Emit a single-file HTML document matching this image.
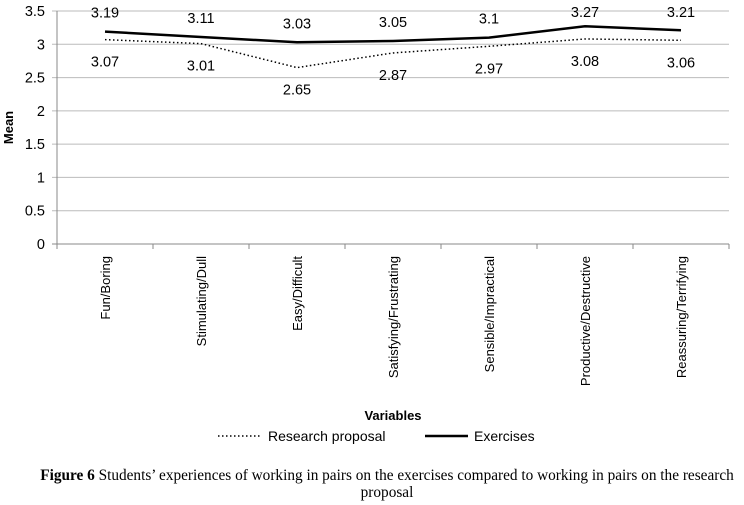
<!DOCTYPE html>
<html><head><meta charset="utf-8"><style>
body{margin:0;background:#fff;width:744px;height:505px;overflow:hidden;font-family:"Liberation Sans",sans-serif}
.cap{position:absolute;left:30px;top:467px;width:714px;text-align:center;font-family:"Liberation Serif",serif;font-size:15.3px;line-height:17px;color:#000}
</style></head><body>
<svg id="chart" width="744" height="460" style="position:absolute;left:0;top:0"></svg>
<div class="cap"><b>Figure 6</b> Students’ experiences of working in pairs on the exercises compared to working in pairs on the research proposal</div>
<script>
const categories=["Fun/Boring","Stimulating/Dull","Easy/Difficult","Satisfying/Frustrating","Sensible/Impractical","Productive/Destructive","Reassuring/Terrifying"];
const research=[3.07,3.01,2.65,2.87,2.97,3.08,3.06];
const exercises=[3.19,3.11,3.03,3.05,3.1,3.27,3.21];
const yTicks=[0,0.5,1,1.5,2,2.5,3,3.5];
const yTickLabels=["0","0.5","1","1.5","2","2.5","3","3.5"];
const NS="http://www.w3.org/2000/svg";
const svg=document.getElementById('chart');
const x0=57,x1=729,yTop=11,yBot=244;
const band=(x1-x0)/categories.length;
const X=i=>x0+band*(i+0.5);
const Y=v=>yBot-(v/3.5)*(yBot-yTop);
function mk(t,a,txt){const e=document.createElementNS(NS,t);for(const k in a)e.setAttribute(k,a[k]);if(txt!==undefined)e.textContent=txt;svg.appendChild(e);return e;}
yTicks.forEach((v,i)=>{
 const g=mk('line',{x1:x0-5,x2:x1,y1:Y(v),y2:Y(v),stroke:v===0?'#888':'#bbb','stroke-width':1});
 
 
 const t=mk('text',{x:x0-12,y:Y(v)+5,'text-anchor':'end','font-size':14.5,fill:'#000'},yTickLabels[i]);
 
 
});
const ax=mk('line',{x1:x0,x2:x0,y1:yTop,y2:yBot,stroke:'#888'});


for(let i=0;i<=categories.length;i++){
 const tk=mk('line',{x1:x0+band*i,x2:x0+band*i,y1:yBot,y2:yBot+5,stroke:'#888'});
 
 
}
categories.forEach((c,i)=>{
 const t=mk('text',{x:0,y:0,'text-anchor':'end','font-size':13,fill:'#000',transform:`translate(${X(i)+5},${yBot+12}) rotate(-90)`},c);
 
 
});
const yt=mk('text',{x:0,y:0,'text-anchor':'middle','font-size':13,'font-weight':'bold',transform:`translate(13,${Y(1.75)}) rotate(-90)`},'Mean');


const xt=mk('text',{x:393,y:420,'text-anchor':'middle','font-size':13,'font-weight':'bold'},'Variables');


const pr=mk('polyline',{points:research.map((v,i)=>X(i)+','+Y(v)).join(' '),fill:'none',stroke:'#000','stroke-width':1.5,'stroke-dasharray':'1.5,2.5'});


const pe=mk('polyline',{points:exercises.map((v,i)=>X(i)+','+Y(v)).join(' '),fill:'none',stroke:'#000','stroke-width':2.5});


exercises.forEach((v,i)=>{
 const t=mk('text',{x:X(i),y:Math.max(Y(v)-14,17),'text-anchor':'middle','font-size':14.5},String(v));
 
 
});
research.forEach((v,i)=>{
 const t=mk('text',{x:X(i),y:Y(v)+27,'text-anchor':'middle','font-size':14.5},String(v));
 
 
});
const l1=mk('line',{x1:218,x2:262,y1:436,y2:436,stroke:'#000','stroke-width':1.5,'stroke-dasharray':'1.5,2.5'});


const lt1=mk('text',{x:268,y:441,'font-size':14},'Research proposal');


const l2=mk('line',{x1:425,x2:468,y1:436,y2:436,stroke:'#000','stroke-width':2.5});


const lt2=mk('text',{x:474,y:441,'font-size':14},'Exercises');


</script>
</body></html>
